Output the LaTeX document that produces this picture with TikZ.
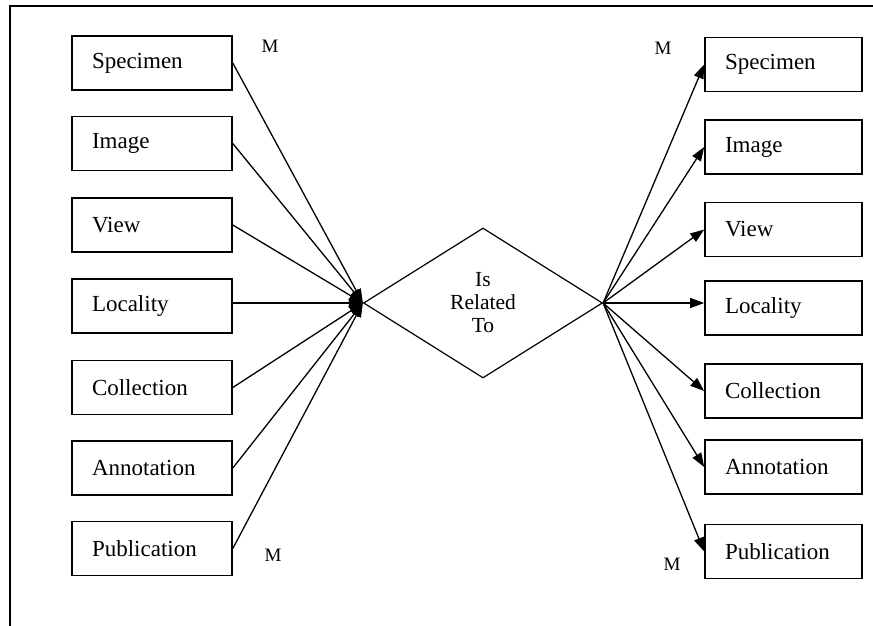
\documentclass[tikz,border=0pt]{standalone}
\usepackage{fontspec}
\setmainfont{Liberation Serif}
\usetikzlibrary{shapes.geometric,arrows.meta}
\begin{document}
\begin{tikzpicture}[x=1pt,y=-1pt,
  entity/.style={draw,line width=1.6pt,rectangle,minimum height=54pt,inner xsep=20pt,
    align=left,font=\fontsize{23}{26}\selectfont},
  lbox/.style={entity,text width=120pt},
  rbox/.style={entity,text width=117pt},
  rel/.style={draw,line width=1.2pt,diamond,inner sep=0pt,minimum width=239pt,
    minimum height=150pt,align=center,font=\fontsize{21.5}{23}\selectfont},
  link/.style={line width=1.3pt,-{Triangle[length=14pt,width=10pt]}},
  card/.style={font=\fontsize{19}{19}\selectfont},
  frame/.style={line width=2pt}
]
\useasboundingbox (0,0) rectangle (873,626);
\draw[frame] (10,626) -- (10,6) -- (873,6);

% relationship
\node[rel] (rel) at (483,303) {Is\\Related\\To};

% left entities
\node[lbox] (l1) at (152,63)    {Specimen};
\node[lbox] (l2) at (152,143.5) {Image};
\node[lbox] (l3) at (152,225)   {View};
\node[lbox] (l4) at (152,306)   {Locality};
\node[lbox] (l5) at (152,387.5) {Collection};
\node[lbox] (l6) at (152,468)   {Annotation};
\node[lbox] (l7) at (152,548.5) {Publication};

% right entities
\node[rbox] (r1) at (783.5,64.5)  {Specimen};
\node[rbox] (r2) at (783.5,147)   {Image};
\node[rbox] (r3) at (783.5,229.5) {View};
\node[rbox] (r4) at (783.5,308)   {Locality};
\node[rbox] (r5) at (783.5,391)   {Collection};
\node[rbox] (r6) at (783.5,467)   {Annotation};
\node[rbox] (r7) at (783.5,551.5) {Publication};

% connectors
\foreach \i in {1,2,3,5,6,7}{
  \draw[link] (l\i.east) -- (rel.west);
  \draw[link] (rel.east) -- (r\i.west);
}
\draw[link] (l4.east |- rel.west) -- (rel.west);
\draw[link] (rel.east) -- (r4.west |- rel.east);

% cardinalities
\node[card] (m1) at (270,46)  {M};
\node[card] (m2) at (273,555) {M};
\node[card] (m3) at (663,48)  {M};
\node[card] (m4) at (672,564) {M};
\end{tikzpicture}
\end{document}
